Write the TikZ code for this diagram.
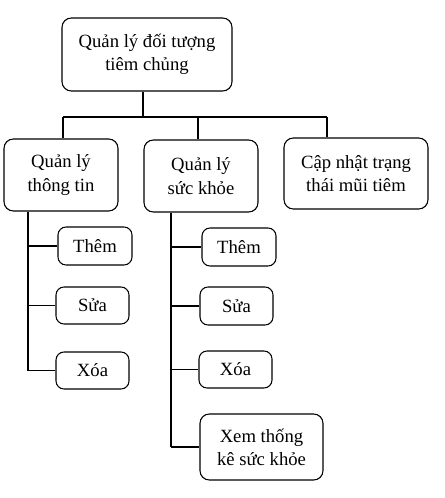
\documentclass[tikz,border=0pt]{standalone}
\usepackage{fontspec}
\setmainfont{Liberation Serif}
\begin{document}
\begin{tikzpicture}[x=0.75pt,y=-0.75pt,
  box/.style={draw=black,line width=0.8pt,rounded corners=7pt,align=center,inner sep=0pt,
    font=\fontsize{14}{17.5}\selectfont},
  conn/.style={draw=black,line width=0.8pt}]
\useasboundingbox (0,0) rectangle (444,498);
\node[box,minimum width=127.5pt,minimum height=54.75pt] (root) at (147,54.5) {Quản lý đối tượng\\tiêm chủng};
\node[box,minimum width=85.5pt,minimum height=54pt] (a) at (61,175) {Quản lý\\thông tin};
\node[box,minimum width=85.5pt,minimum height=54pt] (b) at (201,176) {Quản lý\\sức khỏe};
\node[box,minimum width=108pt,minimum height=53.25pt] (c) at (356,173.5) {Cập nhật trạng\\thái mũi tiêm};
\node[box,rounded corners=6pt,minimum width=55.5pt,minimum height=28.5pt] (a1) at (95,246) {Thêm};
\node[box,rounded corners=6pt,minimum width=54.75pt,minimum height=27.75pt] (a2) at (92.5,305.5) {Sửa};
\node[box,rounded corners=6pt,minimum width=54.75pt,minimum height=27.75pt] (a3) at (92.5,370.5) {Xóa};
\node[box,rounded corners=6pt,minimum width=55.5pt,minimum height=28.5pt] (b1) at (239,247) {Thêm};
\node[box,rounded corners=6pt,minimum width=54.75pt,minimum height=28.5pt] (b2) at (236.5,306) {Sửa};
\node[box,rounded corners=6pt,minimum width=54.75pt,minimum height=27.75pt] (b3) at (235.5,369.5) {Xóa};
\node[box,minimum width=92.25pt,minimum height=49.5pt] (b4) at (261.5,447) {Xem thống\\kê sức khỏe};
\coordinate (j) at (143,117);
\coordinate (j1) at (63,117);
\coordinate (j2) at (198,117);
\coordinate (j3) at (327,117);
\coordinate (ta) at (28,0);
\coordinate (tb) at (171,0);
\draw[conn] (root.south -| j) -- (j);
\draw[conn] (j1) -- (j3);
\draw[conn] (j1) -- (j1 |- a.north);
\draw[conn] (j2) -- (j2 |- b.north);
\draw[conn] (j3) -- (j3 |- c.north);
\draw[conn] (a.south -| ta) -- (ta |- a3.west);
\draw[conn] (ta |- a1.west) -- (a1.west);
\draw[conn] (ta |- a2.west) -- (a2.west);
\draw[conn] (ta |- a3.west) -- (a3.west);
\draw[conn] (b.south -| tb) -- (tb |- b4.west);
\draw[conn] (tb |- b1.west) -- (b1.west);
\draw[conn] (tb |- b2.west) -- (b2.west);
\draw[conn] (tb |- b3.west) -- (b3.west);
\draw[conn] (tb |- b4.west) -- (b4.west);
\end{tikzpicture}
\end{document}
